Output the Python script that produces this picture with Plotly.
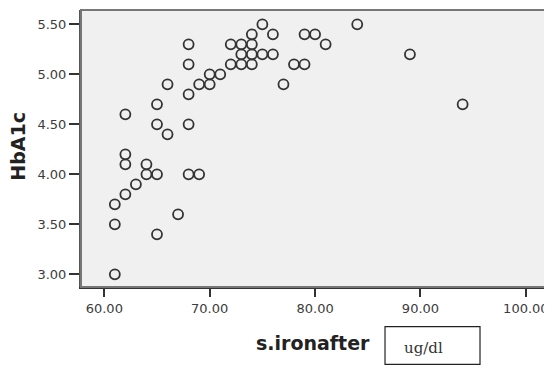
import plotly.graph_objects as go

iron_after = [61, 61, 61, 62, 62, 62, 62, 63, 64, 64, 65, 65, 65, 65, 66, 66, 67,
              68, 69, 68, 68, 68, 68, 69, 70, 70, 71, 72, 72, 73, 73, 73, 74, 74,
              74, 74, 75, 75, 76, 76, 77, 78, 79, 79, 80, 81, 84, 89, 94]
hba1c = [3.0, 3.5, 3.7, 3.8, 4.1, 4.2, 4.6, 3.9, 4.0, 4.1, 4.0, 3.4, 4.5, 4.7, 4.4,
         4.9, 3.6, 4.0, 4.0, 4.5, 4.8, 5.1, 5.3, 4.9, 4.9, 5.0, 5.0, 5.1, 5.3, 5.1,
         5.2, 5.3, 5.1, 5.2, 5.3, 5.4, 5.5, 5.2, 5.2, 5.4, 4.9, 5.1, 5.1, 5.4, 5.4,
         5.3, 5.5, 5.2, 4.7]

x_ticks = [60, 70, 80, 90, 100]
x_tick_labels = ["60.00", "70.00", "80.00", "90.00", "100.00"]
y_ticks = [3.0, 3.5, 4.0, 4.5, 5.0, 5.5]
y_tick_labels = ["3.00", "3.50", "4.00", "4.50", "5.00", "5.50"]

x_title = "s.ironafter"
y_title = "HbA1c"
unit_label = "ug/dl"

fig = go.Figure()
fig.add_trace(go.Scatter(
    x=iron_after, y=hba1c, mode="markers",
    marker=dict(symbol="circle-open", size=10, color="#333333", line=dict(width=1.8)),
    showlegend=False, hoverinfo="skip",
))

tickfont = dict(family="DejaVu Sans", size=13, color="#3c3c3c")
titlefont = dict(family="DejaVu Sans", size=19, color="#222222", weight="bold")
fig.update_layout(
    width=544, height=357,
    margin=dict(l=73, r=4, t=2, b=78),
    paper_bgcolor="white",
    plot_bgcolor="#f0f0f0",
    xaxis=dict(range=[57.79, 102.1], tickvals=x_ticks, ticktext=x_tick_labels,
               showgrid=False, zeroline=False, ticks="outside", ticklen=8,
               tickwidth=2, tickcolor="#333333", tickfont=tickfont,
               showline=True, linecolor="#333333", linewidth=2, mirror=False),
    yaxis=dict(range=[2.873, 5.643], tickvals=y_ticks, ticktext=y_tick_labels,
               showgrid=False, zeroline=False, ticks="outside", ticklen=10,
               tickwidth=2, tickcolor="#333333", tickfont=tickfont,
               showline=True, linecolor="#555555", linewidth=2, mirror=False),
    shapes=[
        dict(type="rect", xref="paper", yref="paper", x0=0, x1=1, y0=0, y1=1,
             line=dict(color="#777777", width=2), fillcolor="rgba(0,0,0,0)",
             layer="above"),
        dict(type="rect", xref="paper", yref="paper", x0=0.651, x1=0.8544,
             y0=-0.279, y1=-0.1433, line=dict(color="#222222", width=1.2),
             fillcolor="white"),
    ],
    annotations=[
        dict(text=x_title, xref="paper", yref="paper", x=0.4968, y=-0.2022,
             xanchor="center", yanchor="middle", showarrow=False, font=titlefont),
        dict(text=y_title, xref="paper", yref="paper", x=-0.1349, y=0.5065,
             xanchor="center", yanchor="middle", showarrow=False,
             textangle=-90, font=titlefont),
        dict(text=unit_label, xref="paper", yref="paper", x=0.7334, y=-0.2202,
             xanchor="center", yanchor="middle", showarrow=False,
             font=dict(family="DejaVu Serif", size=15, color="#333333")),
    ],
)

fig.write_html("out.html")
